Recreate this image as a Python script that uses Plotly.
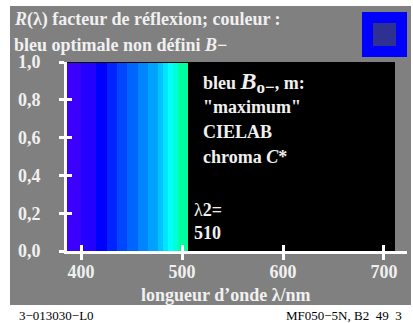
import plotly.graph_objects as go

# spectral bands (nm) and their colours
band_edges = [386, 400, 415, 426, 436, 446, 456, 466, 476, 481, 486, 491, 496, 506]
band_colors = ["#3c00ff", "#2400ff", "#0000ff", "#0024ff", "#0046ff", "#0064ff",
               "#0084ff", "#00a2ff", "#00c4ff", "#00e4ff", "#00ffff", "#00ffd8",
               "#00ffa0"]
band_height = [0.995] * (len(band_edges) - 1)

dark_range = [386, 711]   # black background of the reflectance panel
x_ticks = [400, 500, 600, 700]
y_ticks = [0.0, 0.2, 0.4, 0.6, 0.8, 1.0]
y_labels = ["0,0", "0,2", "0,4", "0,6", "0,8", "1,0"]

W, H = 413, 323
L, R, T, B = 67, 6, 62, 72
PW, PH = W - L - R, H - T - B
GRAY = "#808080"
TXT = "#f0f0f0"
FONT = "Liberation Serif"


def px(x):
    return (x - L) / PW


def py(y):
    return (H - B - y) / PH


centers = [(a + b) / 2 for a, b in zip(band_edges[:-1], band_edges[1:])]
widths = [b - a for a, b in zip(band_edges[:-1], band_edges[1:])]

fig = go.Figure()
fig.add_trace(go.Bar(x=[sum(dark_range) / 2], y=[1.0], width=[dark_range[1] - dark_range[0]],
                     marker=dict(color="black", line_width=0), hoverinfo="skip"))
fig.add_trace(go.Bar(x=centers, y=band_height, width=widths,
                     marker=dict(color=band_colors, line_width=0), hoverinfo="skip"))
# invisible trace to carry the overlay axes (inner halves of the ticks)
fig.add_trace(go.Scatter(x=[400], y=[0], xaxis="x2", yaxis="y2", mode="markers",
                         marker=dict(opacity=0, size=1), hoverinfo="skip"))

xr = [386.1, 722.8]
yr = [0, 1]
axfont = dict(family=FONT, size=18, color=TXT, weight="bold")
fig.update_layout(
    width=W, height=H, margin=dict(l=L, r=R, t=T, b=B),
    paper_bgcolor="white", plot_bgcolor=GRAY,
    barmode="overlay", bargap=0, showlegend=False,
    xaxis=dict(range=xr, tickvals=x_ticks, ticks="outside", ticklen=6, tickwidth=3,
               tickcolor="white", showline=True, linecolor="white", linewidth=3,
               showgrid=False, zeroline=False, tickfont=axfont, ticklabelstandoff=-4),
    yaxis=dict(range=yr, tickvals=y_ticks, ticktext=y_labels,
               ticks="outside", ticklen=5, tickwidth=3, tickcolor="white",
               showline=True, linecolor="white", linewidth=3, showgrid=False,
               zeroline=False, tickfont=axfont, ticklabelstandoff=15),
    xaxis2=dict(range=xr, overlaying="x", tickvals=x_ticks, ticks="inside", ticklen=6,
                tickwidth=3, tickcolor="white", showticklabels=False, showgrid=False,
                zeroline=False, anchor="y2"),
    yaxis2=dict(range=yr, overlaying="y", tickvals=y_ticks, ticks="inside", ticklen=5,
                tickwidth=3, tickcolor="white", showticklabels=False, showgrid=False,
                zeroline=False, anchor="x2"),
)

shapes = [
    dict(type="rect", xref="paper", yref="paper", x0=px(10), x1=px(411), y0=py(305), y1=py(6),
         fillcolor=GRAY, line_width=0, layer="below"),
    dict(type="rect", xref="paper", yref="paper", x0=px(362), x1=px(407), y0=py(57), y1=py(12),
         fillcolor="#0000ff", line_width=0),
    dict(type="rect", xref="paper", yref="paper", x0=px(373), x1=px(396), y0=py(46), y1=py(23),
         fillcolor="#2e3192", line_width=0),
]
fig.update_layout(shapes=shapes)


def note(x, y, text, size=18, anchor="left", color=TXT):
    fig.add_annotation(x=px(x), y=py(y), xref="paper", yref="paper", text=text,
                       showarrow=False, xanchor=anchor, yanchor="middle",
                       font=dict(family=FONT, size=size, color=color))


note(12, 20, "<b><i>R</i>(λ) facteur de réflexion; couleur :</b>")
note(12, 45, "<b>bleu optimale non défini <i>B</i>−</b>")
note(201, 82, "<b>bleu <span style='font-size:24px'><i>B</i></span>"
              "<sub><span style='font-size:17px'>o−</span></sub>, m:</b>")
note(201, 107, "<b>\"maximum\"</b>")
note(201, 132, "<b>CIELAB</b>")
note(201, 157, "<b>chroma <i>C</i>*</b>")
note(192, 210, "λ<b>2=</b>")
note(192, 233, "<b>510</b>")
note(226, 295, "<b>longueur d’onde λ/nm</b>", anchor="center")
note(17, 315, "3−013030−L0", size=13, color="black")
note(404, 315, "MF050−5N, B2  49  3", size=13, anchor="right", color="black")

fig.write_html("out.html", config={"displayModeBar": False},
               post_script="document.body.style.margin='0';")
